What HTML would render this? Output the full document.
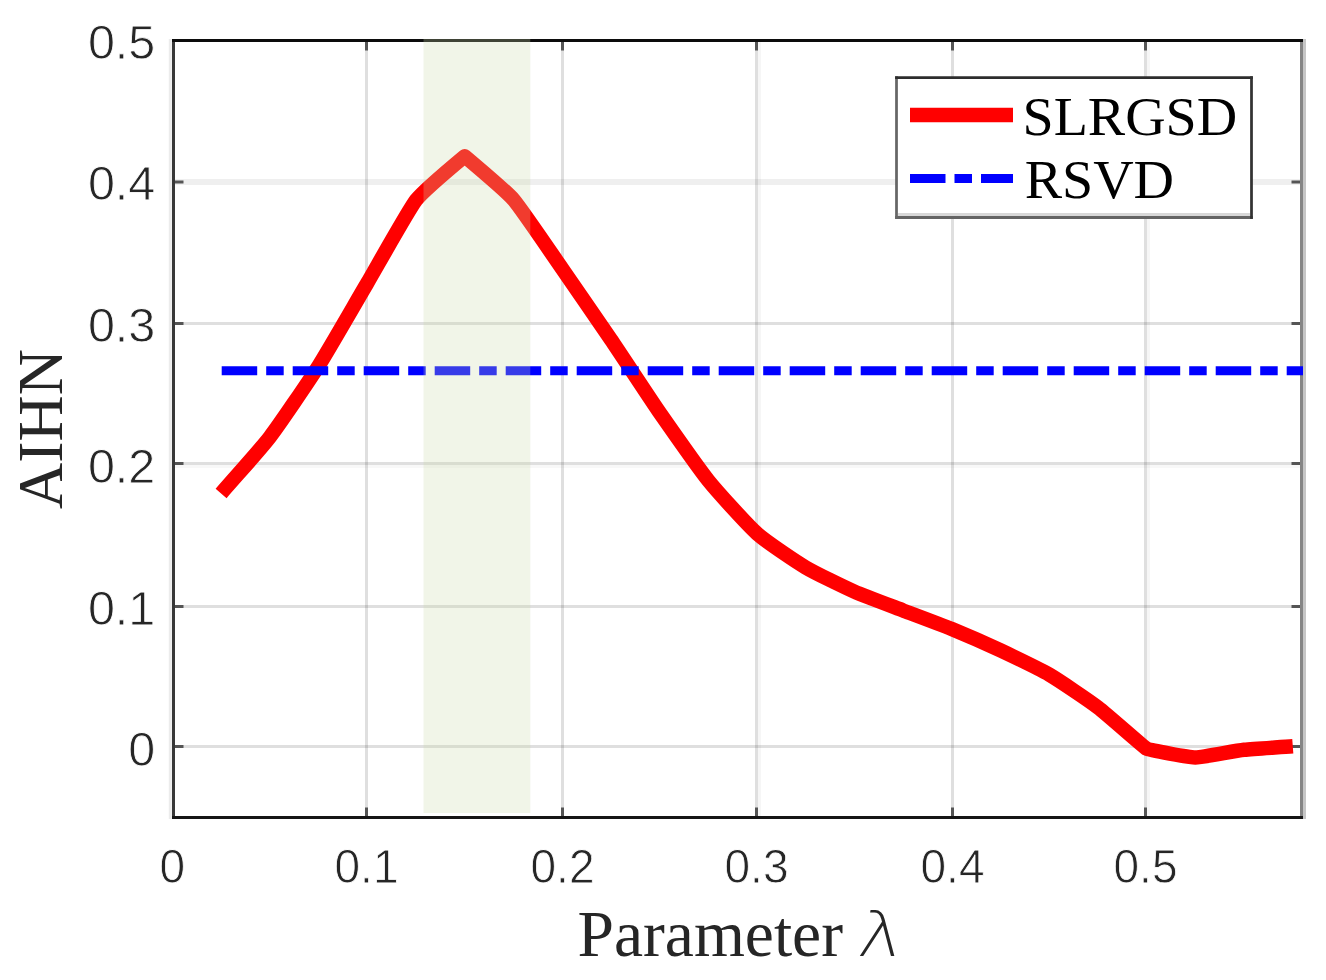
<!DOCTYPE html><html><head><meta charset="utf-8"><title>AIHN vs Parameter</title><style>html,body{margin:0;padding:0;background:#fff;overflow:hidden;}svg{display:block;}</style></head><body>
<svg width="1326" height="980" viewBox="0 0 1326 980">
<rect width="1326" height="980" fill="#fff"/>
<line x1="366.5" y1="40.5" x2="366.5" y2="817.5" stroke="#262626" stroke-opacity="0.15" stroke-width="3"/>
<line x1="562.5" y1="40.5" x2="562.5" y2="817.5" stroke="#262626" stroke-opacity="0.15" stroke-width="3"/>
<line x1="756.5" y1="40.5" x2="756.5" y2="817.5" stroke="#262626" stroke-opacity="0.15" stroke-width="3"/>
<line x1="952.5" y1="40.5" x2="952.5" y2="817.5" stroke="#262626" stroke-opacity="0.15" stroke-width="3"/>
<line x1="1145.5" y1="40.5" x2="1145.5" y2="817.5" stroke="#262626" stroke-opacity="0.15" stroke-width="3"/>
<line x1="759.5" y1="40.5" x2="759.5" y2="817.5" stroke="#262626" stroke-opacity="0.04" stroke-width="3"/>
<line x1="1148.5" y1="40.5" x2="1148.5" y2="817.5" stroke="#262626" stroke-opacity="0.04" stroke-width="3"/>
<line x1="173.5" y1="606.5" x2="1301.5" y2="606.5" stroke="#262626" stroke-opacity="0.15" stroke-width="3"/>
<line x1="173.5" y1="463.5" x2="1301.5" y2="463.5" stroke="#262626" stroke-opacity="0.15" stroke-width="3"/>
<line x1="173.5" y1="323.5" x2="1301.5" y2="323.5" stroke="#262626" stroke-opacity="0.15" stroke-width="3"/>
<line x1="173.5" y1="182.0" x2="1301.5" y2="182.0" stroke="#262626" stroke-opacity="0.075" stroke-width="6"/>
<line x1="173.5" y1="746.5" x2="1301.5" y2="746.5" stroke="#262626" stroke-opacity="0.15" stroke-width="3"/>
<line x1="173.5" y1="466.5" x2="1301.5" y2="466.5" stroke="#262626" stroke-opacity="0.03" stroke-width="3"/>
<line x1="366.5" y1="817.5" x2="366.5" y2="807.5" stroke="#555" stroke-width="3"/>
<line x1="366.5" y1="40.5" x2="366.5" y2="50.5" stroke="#555" stroke-width="3"/>
<line x1="562.5" y1="817.5" x2="562.5" y2="807.5" stroke="#555" stroke-width="3"/>
<line x1="562.5" y1="40.5" x2="562.5" y2="50.5" stroke="#555" stroke-width="3"/>
<line x1="756.5" y1="817.5" x2="756.5" y2="807.5" stroke="#555" stroke-width="3"/>
<line x1="756.5" y1="40.5" x2="756.5" y2="50.5" stroke="#555" stroke-width="3"/>
<line x1="952.5" y1="817.5" x2="952.5" y2="807.5" stroke="#555" stroke-width="3"/>
<line x1="952.5" y1="40.5" x2="952.5" y2="50.5" stroke="#555" stroke-width="3"/>
<line x1="1145.5" y1="817.5" x2="1145.5" y2="807.5" stroke="#555" stroke-width="3"/>
<line x1="1145.5" y1="40.5" x2="1145.5" y2="50.5" stroke="#555" stroke-width="3"/>
<line x1="173.5" y1="746.5" x2="183.5" y2="746.5" stroke="#555" stroke-width="3"/>
<line x1="1301.5" y1="746.5" x2="1291.5" y2="746.5" stroke="#555" stroke-width="3"/>
<line x1="173.5" y1="606.5" x2="183.5" y2="606.5" stroke="#555" stroke-width="3"/>
<line x1="1301.5" y1="606.5" x2="1291.5" y2="606.5" stroke="#555" stroke-width="3"/>
<line x1="173.5" y1="463.5" x2="183.5" y2="463.5" stroke="#555" stroke-width="3"/>
<line x1="1301.5" y1="463.5" x2="1291.5" y2="463.5" stroke="#555" stroke-width="3"/>
<line x1="173.5" y1="323.5" x2="183.5" y2="323.5" stroke="#555" stroke-width="3"/>
<line x1="1301.5" y1="323.5" x2="1291.5" y2="323.5" stroke="#555" stroke-width="3"/>
<line x1="173.5" y1="182.0" x2="183.5" y2="182.0" stroke="#555" stroke-width="3"/>
<line x1="1301.5" y1="182.0" x2="1291.5" y2="182.0" stroke="#555" stroke-width="3"/>
<line x1="170.3" y1="39" x2="170.3" y2="819" stroke="#ececec" stroke-width="3"/>
<line x1="173.5" y1="39" x2="173.5" y2="819" stroke="#383838" stroke-width="3"/>
<line x1="1301.5" y1="39" x2="1301.5" y2="819" stroke="#858585" stroke-width="3"/>
<line x1="1304.5" y1="39" x2="1304.5" y2="819" stroke="#c6c6c6" stroke-width="3"/>
<line x1="172" y1="40.5" x2="1303" y2="40.5" stroke="#0c0c0c" stroke-width="3"/>
<line x1="172" y1="817.5" x2="1303" y2="817.5" stroke="#151515" stroke-width="3"/>
<path d="M221.1,493.4 C237.4,474.6 260.9,448.8 269.8,437.1 C278.8,425.4 309.6,380.1 318.5,366.0 C327.5,351.9 358.3,298.2 367.3,283.0 C376.2,267.8 408.7,209.7 416.0,200.2 C423.3,190.7 464.7,156.2 464.7,156.2 C464.7,156.2 506.1,191.1 513.4,199.5 C520.7,207.9 553.2,255.8 562.1,268.6 C571.1,281.4 601.9,326.2 610.8,339.4 C619.8,352.6 650.6,399.5 659.5,412.4 C668.5,425.3 699.3,469.4 708.3,480.5 C717.2,491.6 748.0,525.5 757.0,533.5 C765.9,541.5 796.8,562.1 805.7,567.4 C814.6,572.7 845.5,587.7 854.4,591.6 C863.3,595.5 894.2,607.0 903.1,610.4 C912.1,613.8 942.9,625.3 951.8,629.0 C960.8,632.7 991.6,646.2 1000.6,650.4 C1009.5,654.6 1040.3,669.4 1049.3,674.6 C1058.2,679.8 1089.1,700.6 1098.0,707.4 C1106.9,714.2 1144.3,747.4 1146.7,748.7 C1149.1,750.0 1189.7,757.4 1195.4,757.5 C1201.1,757.6 1235.2,750.8 1244.1,749.8 C1253.1,748.8 1276.6,747.4 1292.8,746.2" fill="none" stroke="#f00" stroke-width="14.5" stroke-linejoin="round" stroke-linecap="butt"/>
<line x1="221.7" y1="370.7" x2="1303" y2="370.7" stroke="#00f" stroke-width="9" stroke-dasharray="35.5 9 17.5 9"/>
<rect x="423.5" y="39" width="106.8" height="774" fill="rgb(203,218,170)" fill-opacity="0.27"/>
<g font-family="Liberation Sans, Arial, Helvetica, sans-serif" font-size="48.5" fill="#262626" stroke="#fff" stroke-width="0.8">
<text transform="translate(172.4,882.6) scale(0.95,1)" text-anchor="middle">0</text>
<text transform="translate(366.5,882.6) scale(0.95,1)" text-anchor="middle">0.1</text>
<text transform="translate(562.5,882.6) scale(0.95,1)" text-anchor="middle">0.2</text>
<text transform="translate(756.5,882.6) scale(0.95,1)" text-anchor="middle">0.3</text>
<text transform="translate(952.5,882.6) scale(0.95,1)" text-anchor="middle">0.4</text>
<text transform="translate(1145.5,882.6) scale(0.95,1)" text-anchor="middle">0.5</text>
<text x="155.3" y="765.9" text-anchor="end">0</text>
<text x="155.3" y="624.5" text-anchor="end">0.1</text>
<text x="155.3" y="483.2" text-anchor="end">0.2</text>
<text x="155.3" y="341.8" text-anchor="end">0.3</text>
<text x="155.3" y="200.4" text-anchor="end">0.4</text>
<text x="155.3" y="59.0" text-anchor="end">0.5</text>
</g>
<g font-family="Liberation Serif, Times New Roman, serif" font-size="64" fill="#262626">
<text x="577.5" y="955.7" font-size="65.5">Parameter</text>
<text transform="translate(856.0,955.8) skewX(-11) scale(1.14,1)" font-family="DejaVu Sans, sans-serif" font-weight="200" font-size="62.5">λ</text>
<text transform="translate(62.2,429) rotate(-90)" text-anchor="middle">AIHN</text>
</g>
<rect x="896.5" y="77.7" width="355" height="139.8" fill="#fff"/>
<rect x="898" y="213" width="352" height="3.1" fill="#d8d8d8"/>
<line x1="895.1" y1="217.5" x2="1252.85" y2="217.5" stroke="#646464" stroke-width="2.8"/>
<line x1="896.5" y1="76.3" x2="896.5" y2="218.9" stroke="#666" stroke-width="2.75"/>
<line x1="895.1" y1="77.7" x2="1252.85" y2="77.7" stroke="#2d2d2d" stroke-width="2.8"/>
<line x1="1251.5" y1="76.3" x2="1251.5" y2="218.9" stroke="#333" stroke-width="2.75"/>
<line x1="910" y1="115" x2="1013" y2="115" stroke="#f00" stroke-width="14.5"/>
<line x1="910" y1="178.5" x2="1013" y2="178.5" stroke="#00f" stroke-width="9" stroke-dasharray="35.5 9 17.5 9"/>
<g font-family="Liberation Serif, Times New Roman, serif" font-size="56" fill="#000">
<text transform="translate(1022.5,134.9) scale(1,0.966)">SLRGSD</text>
<text transform="translate(1024.7,198.1) scale(1,0.966)">RSVD</text>
</g>
</svg></body></html>
